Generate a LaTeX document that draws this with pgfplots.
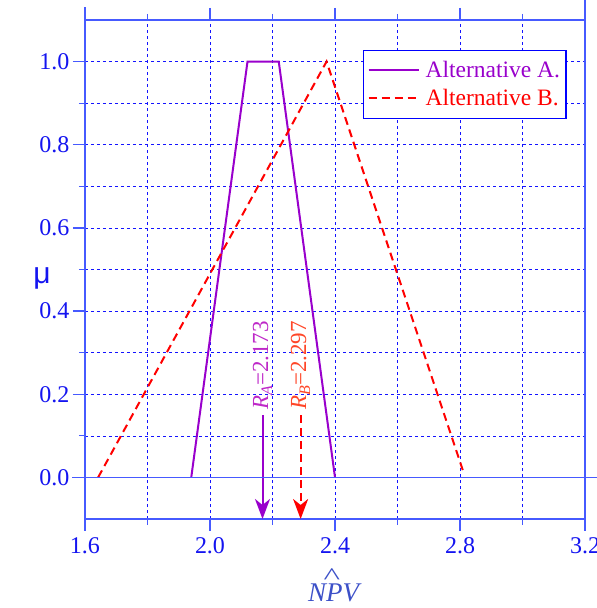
\documentclass[border=0pt]{standalone}
\usepackage{fontspec}
\setmainfont{Liberation Serif}
\newfontfamily\sansmu{Liberation Sans}
\usepackage{graphicx}
\usepackage{pgfplots}
\pgfplotsset{compat=1.18}
\usetikzlibrary{arrows.meta}
\definecolor{axblue}{RGB}{70,90,255}
\definecolor{gridblue}{RGB}{20,20,255}
\definecolor{tickblue}{RGB}{20,20,240}
\definecolor{purpA}{RGB}{153,0,204}
\definecolor{labA}{RGB}{190,40,200}
\definecolor{labB}{RGB}{255,70,40}
\definecolor{xlab}{RGB}{60,80,200}
\begin{document}
\begin{tikzpicture}
\begin{axis}[
  name=ax, scale only axis, width=500pt, height=499pt,
  xmin=1.6, xmax=3.2, ymin=-0.1, ymax=1.1,
  clip=false,
  xtick={1.6,2.0,2.4,2.8,3.2}, minor xtick={1.8,2.2,2.6,3.0},
  xticklabels={1.6,2.0,2.4,2.8,3.2},
  ytick={0,0.2,0.4,0.6,0.8,1.0}, minor ytick={0.1,0.3,0.5,0.7,0.9},
  yticklabels={0.0,0.2,0.4,0.6,0.8,1.0},
  grid=both,
  major grid style={gridblue, line width=0.6pt, dash pattern=on 3pt off 3pt},
  minor grid style={gridblue, line width=0.6pt, dash pattern=on 3pt off 3pt},
  axis line style={axblue, line width=1.2pt},
  tick style={axblue, line width=1.2pt},
  major tick length=12pt, minor tick length=6pt,
  tick align=outside, xtick pos=both, ytick pos=left,
  xticklabel pos=bottom,
  ticklabel style={font=\rmfamily\fontsize{24}{28}\selectfont, text=tickblue},
  xticklabel style={yshift=-3pt},
  legend style={at={(rel axis cs:0.556,0.94)}, anchor=north west, draw=blue,
    line width=1.2pt, fill=white, font=\rmfamily\fontsize{23.5}{26}\selectfont,
    inner xsep=4pt, inner ysep=9pt, row sep=6pt,
    /tikz/every odd column/.append style={column sep=4pt}},
  legend cell align=left,
  legend image code/.code={\draw[#1] plot coordinates {(0pt,0pt) (25pt,0pt) (50pt,0pt)};},
]
\coordinate (sw) at (rel axis cs:0,0);
\addplot[purpA, line width=2pt] coordinates {(1.94,0) (2.12,1) (2.22,1) (2.40,0)};
\addlegendentry{\textcolor{purpA}{Alternative A.}}
\addplot[red, line width=2pt, dash pattern=on 8pt off 5pt] coordinates {(1.642,0) (2.373,1) (2.81,0.015)};
\addlegendentry{\textcolor{red}{Alternative B.}}
\addplot[purpA, line width=2pt, -{Stealth[length=20pt,width=15pt,inset=6pt]}, forget plot] coordinates {(2.168,0.15) (2.168,-0.1)};
\addplot[red, line width=2pt, dash pattern=on 8pt off 5pt, -{Stealth[length=20pt,width=15pt,inset=6pt]}, forget plot] coordinates {(2.290,0.15) (2.290,-0.1)};
\node[rotate=90, anchor=west, text=labA, font=\rmfamily\fontsize{23}{26}\selectfont, inner sep=1pt] at (axis cs:2.168,0.16) {\textit{R}\raisebox{-4pt}{\fontsize{16}{18}\selectfont\textit{A}}=2.173};
\node[rotate=90, anchor=west, text=labB, font=\rmfamily\fontsize{23}{26}\selectfont, inner sep=1pt] at (axis cs:2.290,0.16) {\textit{R}\raisebox{-4pt}{\fontsize{16}{18}\selectfont\textit{B}}=2.297};
\node[text=tickblue, font=\sansmu\fontsize{30}{32}\selectfont] at (rel axis cs:-0.086,0.483) {μ};
\node[text=xlab, font=\rmfamily\fontsize{27}{30}\selectfont, anchor=base] at (rel axis cs:0.5,-0.166) {\textit{NPV}};
\node[text=xlab, font=\rmfamily\fontsize{22}{24}\selectfont, anchor=base] at (rel axis cs:0.494,-0.131) {\scalebox{1.6}[1.1]{\textasciicircum}};
\draw[axblue, line width=1.2pt] (axis cs:1.56,0) -- (axis cs:3.24,0);
\draw[axblue, line width=1.2pt] (rel axis cs:0,-0.022) -- (rel axis cs:0,1.026);
\draw[axblue, line width=1.2pt] (rel axis cs:1,-0.022) -- (rel axis cs:1,1.04);
\end{axis}
\pgfresetboundingbox
\path[use as bounding box] (sw) ++(-85pt,-89pt) rectangle ++(597pt,608pt);
\end{tikzpicture}
\end{document}
